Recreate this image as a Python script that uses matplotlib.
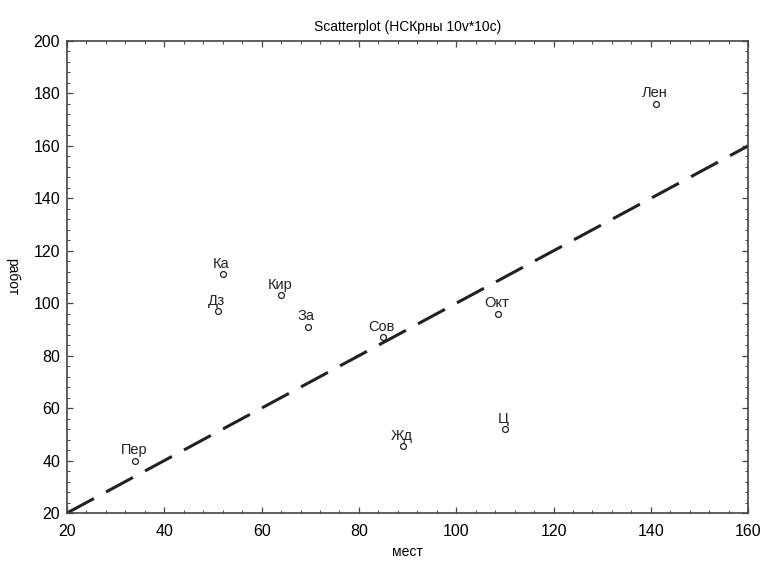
import matplotlib
matplotlib.use("Agg")
import matplotlib.pyplot as plt
from matplotlib.ticker import MultipleLocator, AutoMinorLocator

plt.rcParams['font.family'] = ['Liberation Sans', 'DejaVu Sans']

# districts: places (x) vs jobs (y)
names = ["Лен", "Ка", "Дз", "Кир", "За", "Сов", "Окт", "Ц", "Жд", "Пер"]
mest = [141, 52, 51, 64, 69.5, 85, 108.5, 110, 89, 34]
rabot = [176, 111, 97, 103, 91, 87, 96, 52, 45.5, 40]

diag = [20, 160]

fig = plt.figure(figsize=(7.65, 5.69), dpi=100)
ax = fig.add_axes([0.0876, 0.0984, 0.8904, 0.8296])

# reference line y = x
ax.plot(diag, diag, color="#222222", linestyle=(0, (10, 4.5)), linewidth=2.2, zorder=2)

ax.scatter(mest, rabot, s=18, facecolors="white", edgecolors="#222222",
           linewidths=0.9, zorder=3)
for name, x, y in zip(names, mest, rabot):
    ax.annotate(name, (x, y), xytext=(-1, 2.5), textcoords="offset points",
                ha="center", va="bottom", fontsize=10.5, color="#222222")

ax.set_xlim(20, 160)
ax.set_ylim(20, 200)
ax.xaxis.set_major_locator(MultipleLocator(20))
ax.yaxis.set_major_locator(MultipleLocator(20))
ax.xaxis.set_minor_locator(AutoMinorLocator(5))
ax.yaxis.set_minor_locator(AutoMinorLocator(5))
ax.tick_params(which="both", direction="in", top=True, right=True,
               color="#444444", labelsize=11.5)
ax.tick_params(axis="x", pad=8)
ax.tick_params(axis="y", pad=5)
ax.tick_params(which="major", length=4, width=0.9)
ax.tick_params(which="minor", length=2, width=0.7)
for sp in ax.spines.values():
    sp.set_color("#444444")
    sp.set_linewidth(1.2)

ax.set_title("Scatterplot (НСКрны 10v*10c)", fontsize=10, pad=7)
ax.set_xlabel("мест", fontsize=10, labelpad=4)
ax.set_ylabel("работ", fontsize=10, rotation=270, labelpad=20)

fig.savefig("out.png", dpi=100, facecolor="white")
